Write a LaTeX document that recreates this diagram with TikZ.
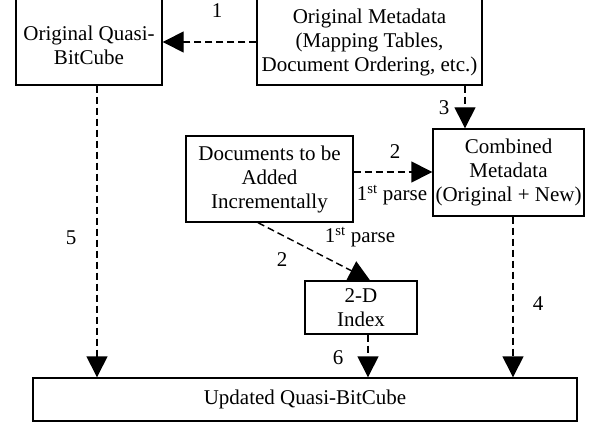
\documentclass[tikz,border=0pt]{standalone}
\usepackage{fontspec}
\setmainfont{Liberation Serif}
\usetikzlibrary{arrows.meta}
\newcommand{\diagfont}{\fontsize{21}{24}\selectfont}
\begin{document}
\begin{tikzpicture}[x=1pt, y=-1pt,
  box/.style={draw, line width=1.4pt, fill=white, inner sep=0pt, align=center, font=\diagfont},
  txt/.style={inner sep=0pt, align=center, font=\diagfont},
  lbl/.style={inner sep=0pt, font=\diagfont},
  flow/.style={line width=1.4pt, dash pattern=on 7pt off 4pt,
    -{Triangle[length=21pt, width=21pt]}}]
\useasboundingbox (0,0) rectangle (602,425);

% boxes (the two upper ones run past the top edge)
\node[box, minimum width=146pt, minimum height=100pt] (A) at (89,35) {};
\node[txt] (Atext) at (89,45) {Original Quasi-\\BitCube};
\node[box, minimum width=225pt, minimum height=100pt] (B) at (369.5,35) {};
\node[txt] (Btext) at (369.5,42) {Original Metadata\\(Mapping Tables,\\Document Ordering, etc.)};
\node[box, minimum width=151pt, minimum height=87pt] (C) at (508.5,172.5)
  {Combined\\Metadata\\(Original + New)};
\node[box, minimum width=167pt, minimum height=86pt] (D) at (269.5,179)
  {Documents to be\\Added\\Incrementally};
\node[box, minimum width=112pt, minimum height=53pt] (E) at (361,307.5) {2-D\\Index};
\node[box, minimum width=544pt, minimum height=43pt] (F) at (305,399.5) {Updated Quasi-BitCube};

% connectors
\draw[flow] (B.west |- 0,42) -- (A.east |- 0,42);
\draw[flow] (B.south -| 465,0) -- (C.north -| 465,0);
\draw[flow] (D.east |- 0,172) -- (C.west |- 0,172);
\draw[flow] (D.south -| 258,0) -- (E.north -| 370,0);
\draw[flow] (E.south -| 368,0) -- (F.north -| 368,0);
\draw[flow] (A.south -| 97,0) -- (F.north -| 97,0);
\draw[flow] (C.south -| 513,0) -- (F.north -| 513,0);

% step numbers and notes
\node[lbl] (n1) at (217,11) {1};
\node[lbl] (n3) at (444,108) {3};
\node[lbl] (n2a) at (395,152) {2};
\node[lbl] (p1) at (392,195) {1\textsuperscript{st} parse};
\node[lbl] (p2) at (360,237) {1\textsuperscript{st} parse};
\node[lbl] (n2b) at (282,260) {2};
\node[lbl] (n5) at (71,238) {5};
\node[lbl] (n4) at (538,304) {4};
\node[lbl] (n6) at (338,358) {6};
\end{tikzpicture}
\end{document}
